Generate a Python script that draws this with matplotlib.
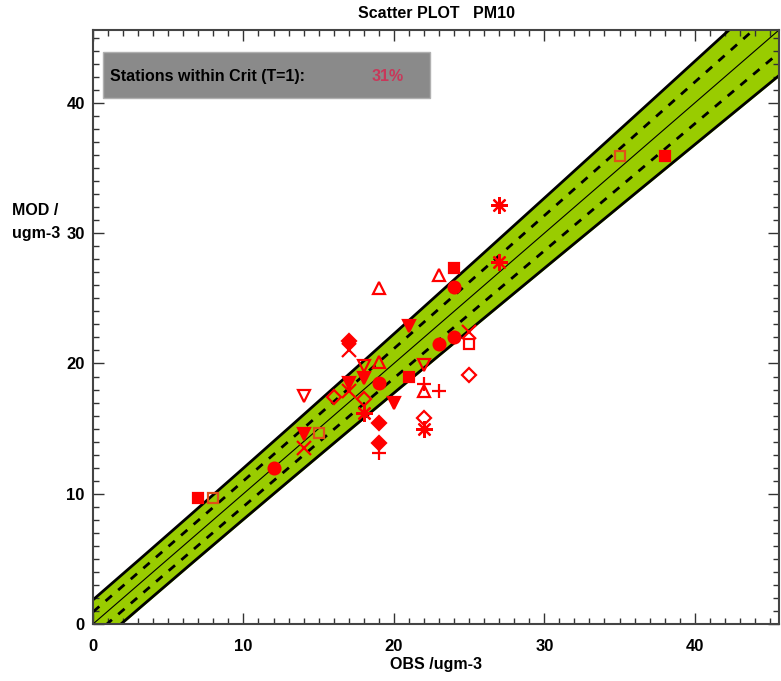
import numpy as np
import matplotlib.pyplot as plt
from matplotlib.patches import Rectangle
from matplotlib.ticker import MultipleLocator

plt.rcParams['font.family'] = ['Liberation Sans', 'DejaVu Sans']
plt.rcParams['font.weight'] = 'bold'

# observed / modelled yearly means per station, with the symbol used
obs = [7, 8, 12, 14, 14, 14, 15, 16, 17, 17, 17, 17, 18, 18, 18, 18,
       19, 19, 19, 19, 19, 19, 20, 21, 21, 22, 22, 22, 22, 22, 23, 23,
       23, 24, 24, 24, 25, 25, 25, 27, 27, 35, 38]
mod = [9.7, 9.7, 12.0, 17.5, 14.6, 13.5, 14.7, 17.4, 21.7, 21.0, 18.5, 17.9,
       19.8, 18.9, 17.3, 16.2, 25.8, 20.1, 18.5, 15.4, 13.9, 13.1, 17.0, 22.9,
       19.0, 19.9, 18.4, 17.9, 15.8, 15.0, 17.9, 26.8, 21.5, 27.3, 25.9, 22.0,
       22.4, 21.5, 19.1, 32.2, 27.8, 35.9, 35.9]
symbols = ['s', 's', 'o', 'v', 'v', 'x', 's', 'D', 'D', 'x', 'v', 'x',
           'v', 'v', 'D', 'ast', '^', '^', 'o', 'D', 'D', '+', 'v', 'v',
           's', 'v', '+', '^', 'D', 'ast', '+', '^', 'o', 's', 'o', 'o',
           'x', 's', 'D', 'ast', 'ast', 's', 's']
filled = [1, 0, 1, 0, 1, 1, 0, 0, 1, 1, 1, 1,
          0, 1, 0, 1, 0, 0, 1, 1, 1, 1, 1, 1,
          1, 0, 1, 0, 0, 1, 1, 0, 1, 1, 1, 1,
          1, 0, 0, 1, 1, 0, 1]
orange = [0, 1, 0, 0, 0, 0, 1, 0, 0, 0, 0, 0,
          0, 0, 0, 0, 0, 0, 0, 0, 0, 0, 0, 0,
          0, 0, 0, 0, 0, 0, 0, 0, 0, 0, 0, 0,
          0, 0, 0, 0, 0, 1, 0]

pct_within = '31%'
lim = 45.6
# half width of the acceptance band (outer = 2 * inner)
band_a, band_b = 0.0325, 814.0

fig = plt.figure(figsize=(7.81, 6.81), dpi=100)
ax = fig.add_axes([93 / 781, 1 - 624 / 681, 686 / 781, 594 / 681])

xx = np.linspace(0, lim, 300)
u = band_a * np.sqrt(band_b + xx ** 2)
ax.fill_between(xx, xx - 2 * u, xx + 2 * u, color='#99cc00', zorder=1)
ax.plot(xx, xx + 2 * u, color='black', lw=2, zorder=2)
ax.plot(xx, xx - 2 * u, color='black', lw=2, zorder=2)
ax.plot(xx, xx + u, color='black', lw=2, ls=(0, (3, 3)), zorder=2)
ax.plot(xx, xx - u, color='black', lw=2, ls=(0, (3, 3)), zorder=2)
ax.plot(xx, xx, color='black', lw=0.8, zorder=2)

for x, y, m, f, o in zip(obs, mod, symbols, filled, orange):
    col = '#e05018' if o else '#ff0000'
    if m == 'ast':
        ax.plot(x, y, marker=(8, 2, 0), ms=12, mew=1.6, color=col, zorder=3)
    elif m in ('x', '+'):
        ax.plot(x, y, marker=m, ms=10, mew=1.6, color=col, zorder=3)
    else:
        ms = {'s': 7, 'D': 7, 'o': 8.5, 'v': 9, '^': 9}[m]
        ax.plot(x, y, marker=m, ms=ms, mew=1.6, color=col,
                mfc=col if f else 'none', zorder=3)

ax.set_xlim(0, lim)
ax.set_ylim(0, lim)
ax.xaxis.set_major_locator(MultipleLocator(10))
ax.yaxis.set_major_locator(MultipleLocator(10))
ax.xaxis.set_minor_locator(MultipleLocator(1))
ax.yaxis.set_minor_locator(MultipleLocator(1))
ax.tick_params(which='both', direction='in', top=True, right=True,
               colors='#333333', labelcolor='black', labelsize=12)
ax.tick_params(which='major', length=8, width=1)
ax.tick_params(which='minor', length=4, width=1)
ax.tick_params(axis='x', pad=11)
ax.tick_params(axis='y', pad=6)
for s in ax.spines.values():
    s.set_color('#444444')
    s.set_linewidth(1.5)

ax.add_patch(Rectangle((0.0146, 0.886), 0.477, 0.0774, transform=ax.transAxes,
                       facecolor='#8a8a8a', edgecolor='#b0b0b0', lw=1, zorder=4))
ax.text(0.025, 0.922, 'Stations within Crit (T=1):', transform=ax.transAxes,
        fontsize=11.5, fontweight='bold', va='center', zorder=5)
ax.text(0.429, 0.922, pct_within, transform=ax.transAxes, color='#c8385a',
        fontsize=11.5, fontweight='bold', va='center', ha='center', zorder=5)

fig.text(436 / 781, 1 - 13 / 681, 'Scatter PLOT   PM10', ha='center',
         va='center', fontsize=11.5, fontweight='bold')
fig.text(436 / 781, 1 - 665 / 681, 'OBS /ugm-3', ha='center', va='center',
         fontsize=11.5, fontweight='bold')
fig.text(12 / 781, 1 - 222 / 681, 'MOD /\nugm-3', ha='left', va='center',
         fontsize=11.5, fontweight='bold', linespacing=1.6)

fig.savefig('out.png', dpi=100)
